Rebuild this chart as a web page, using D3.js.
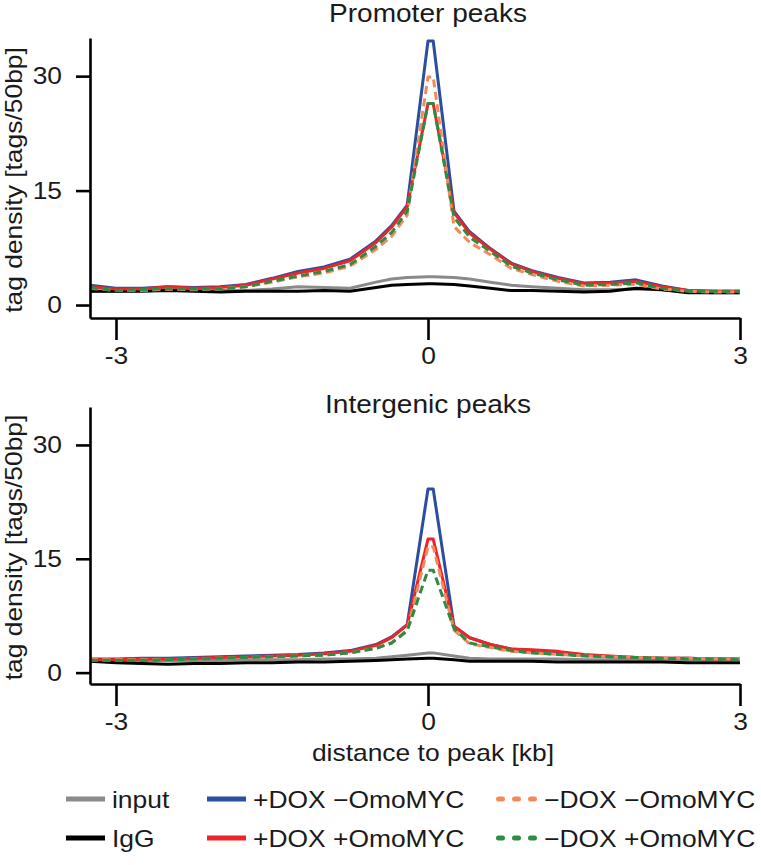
<!DOCTYPE html>
<html>
<head>
<meta charset="utf-8">
<script src="https://cdn.jsdelivr.net/npm/d3@7"></script>
<style>
  body { margin: 0; background: #fff; }
  svg text { font-family: "Liberation Sans", Arial, sans-serif; fill: #1a1a1a; }
</style>
</head>
<body>
<svg id="chart" width="761" height="865"></svg>
<script>
// distance to peak (kb)
var distKb = [-3.25, -3, -2.75, -2.5, -2.25, -2, -1.75, -1.5, -1.25, -1, -0.75, -0.5, -0.35, -0.2,
              0, 0.05, 0.25, 0.4, 0.6, 0.8, 1, 1.25, 1.5, 1.75, 2, 2.25, 2.5, 2.75, 3];

// Promoter peaks
var promInput   = [1.8, 1.8, 1.9, 2.0, 1.9, 1.9, 1.9, 2.1, 2.4, 2.3, 2.2, 3.0, 3.4, 3.6, 3.7, 3.7, 3.6, 3.4, 3.0, 2.6, 2.4, 2.2, 2.0, 2.0, 2.1, 2.0, 1.7, 1.6, 1.6];
var promIgG     = [1.8, 1.8, 1.8, 1.9, 1.8, 1.7, 1.8, 1.8, 1.8, 1.9, 1.8, 2.3, 2.6, 2.7, 2.8, 2.8, 2.7, 2.5, 2.2, 1.9, 1.9, 1.8, 1.7, 1.8, 2.2, 2.0, 1.6, 1.6, 1.6];
var promDoxNoOmo = [2.6, 2.2, 2.2, 2.4, 2.3, 2.4, 2.7, 3.5, 4.4, 5.0, 6.0, 8.4, 10.4, 13.1, 34.6, 34.6, 12.3, 9.6, 7.4, 5.5, 4.5, 3.6, 2.9, 3.0, 3.3, 2.5, 1.9, 1.8, 1.8];
var promDoxOmo   = [2.4, 2.1, 2.1, 2.4, 2.2, 2.3, 2.6, 3.4, 4.2, 4.8, 5.8, 8.2, 10.2, 12.9, 26.4, 26.4, 12.1, 9.4, 7.3, 5.4, 4.4, 3.5, 2.8, 2.9, 3.1, 2.4, 1.9, 1.8, 1.8];
var promNoDoxNoOmo = [2.2, 1.9, 1.9, 2.1, 2.0, 2.1, 2.4, 3.0, 3.7, 4.2, 5.1, 7.3, 9.0, 11.8, 29.9, 29.9, 10.3, 8.2, 6.6, 4.8, 4.0, 3.1, 2.5, 2.6, 2.7, 2.1, 1.8, 1.7, 1.7];
var promNoDoxOmo   = [2.3, 1.9, 2.0, 2.2, 2.1, 2.1, 2.4, 3.1, 3.8, 4.4, 5.3, 7.7, 9.5, 12.3, 26.4, 26.4, 11.5, 8.9, 7.0, 5.1, 4.2, 3.3, 2.6, 2.7, 2.9, 2.2, 1.8, 1.8, 1.8];

// Intergenic peaks
var interInput   = [1.6, 1.6, 1.6, 1.6, 1.6, 1.6, 1.7, 1.7, 1.7, 1.8, 1.8, 1.9, 2.1, 2.3, 2.6, 2.6, 2.2, 1.9, 1.8, 1.8, 1.8, 1.8, 1.7, 1.7, 1.7, 1.7, 1.7, 1.7, 1.7];
var interIgG     = [1.5, 1.3, 1.2, 1.1, 1.2, 1.2, 1.3, 1.3, 1.4, 1.4, 1.5, 1.6, 1.7, 1.8, 1.9, 1.9, 1.7, 1.5, 1.5, 1.5, 1.5, 1.4, 1.4, 1.4, 1.4, 1.4, 1.3, 1.3, 1.3];
var interDoxNoOmo = [1.8, 1.8, 1.9, 1.9, 2.0, 2.1, 2.2, 2.3, 2.4, 2.6, 2.9, 3.7, 4.7, 6.3, 24.2, 24.2, 6.1, 4.6, 3.7, 3.1, 2.9, 2.7, 2.3, 2.1, 2.0, 1.9, 1.9, 1.8, 1.8];
var interDoxOmo   = [1.7, 1.7, 1.8, 1.8, 1.9, 2.0, 2.1, 2.2, 2.3, 2.5, 2.8, 3.6, 4.6, 6.3, 17.6, 17.6, 6.1, 4.6, 3.7, 3.1, 3.0, 2.8, 2.4, 2.2, 2.0, 1.9, 1.9, 1.8, 1.8];
var interNoDoxNoOmo = [1.7, 1.7, 1.7, 1.7, 1.8, 1.9, 2.0, 2.1, 2.2, 2.3, 2.6, 3.2, 3.9, 5.6, 16.6, 16.6, 5.6, 3.8, 3.3, 2.8, 2.6, 2.4, 2.2, 2.1, 2.0, 1.9, 1.9, 1.8, 1.8];
var interNoDoxOmo   = [1.6, 1.6, 1.6, 1.7, 1.8, 1.9, 2.0, 2.1, 2.2, 2.3, 2.6, 3.2, 3.9, 5.5, 13.5, 13.5, 5.8, 3.9, 3.4, 2.9, 2.6, 2.4, 2.2, 2.1, 2.0, 1.9, 1.8, 1.8, 1.7];

var seriesNames = ["input", "IgG", "+DOX \u2212OmoMYC", "+DOX +OmoMYC", "\u2212DOX \u2212OmoMYC", "\u2212DOX +OmoMYC"];
var yTicks = [0, 15, 30];
var xTicks = [-3, 0, 3];

var styles = [
  {color: "#8a8a8a", dash: null},
  {color: "#000000", dash: null},
  {color: "#2b4f9e", dash: null},
  {color: "#ec2528", dash: null},
  {color: "#f48a5c", dash: "8,4.5"},
  {color: "#2e8c42", dash: "8,4.5"}
];

var svg = d3.select("#chart");

var xScale = d3.scaleLinear()
    .domain([-3.25, 3])
    .range([90, 740]);

function drawPanel(title, values, yRange, yDomain, titleY) {
    var yScale = d3.scaleLinear().domain(yDomain).range(yRange);
    var g = svg.append("g");

    var line = d3.line()
        .x(function (d, i) { return xScale(distKb[i]); })
        .y(function (d) { return yScale(d); });

    values.forEach(function (v, k) {
        g.append("path")
            .datum(v)
            .attr("fill", "none")
            .attr("stroke", styles[k].color)
            .attr("stroke-width", 3)
            .attr("stroke-linejoin", "round")
            .attr("stroke-dasharray", styles[k].dash)
            .attr("d", line);
    });

    // y axis
    var ya = g.append("g")
        .attr("transform", "translate(90,0)")
        .call(d3.axisLeft(yScale).tickValues(yTicks).tickSize(14).tickSizeOuter(0).tickPadding(14));
    // x axis
    var xa = g.append("g")
        .attr("transform", "translate(0," + yRange[0] + ")")
        .call(d3.axisBottom(xScale).tickValues(xTicks).tickSize(22).tickSizeOuter(0).tickPadding(7)
            .tickFormat(function (d) { return d < 0 ? "-" + Math.abs(d) : d; }));

    [ya, xa].forEach(function (a) {
        a.attr("font-size", 24).attr("font-family", null);
        a.selectAll("path, line").attr("stroke", "#000").attr("stroke-width", 2.6);
        a.selectAll("text").attr("fill", "#1a1a1a");
    });

    g.append("text")
        .attr("x", 428)
        .attr("y", titleY)
        .attr("text-anchor", "middle")
        .attr("font-size", 25.5)
        .text(title);

    g.append("text")
        .attr("transform", "translate(22," + ((yRange[0] + yRange[1]) / 2 + 2) + ") rotate(-90)")
        .attr("text-anchor", "middle")
        .attr("font-size", 24)
        .text("tag density [tags/50bp]");
}

drawPanel("Promoter peaks",
    [promInput, promIgG, promDoxNoOmo, promDoxOmo, promNoDoxNoOmo, promNoDoxOmo],
    [318, 38], [-1.7, 35], 22);

drawPanel("Intergenic peaks",
    [interInput, interIgG, interDoxNoOmo, interDoxOmo, interNoDoxNoOmo, interNoDoxOmo],
    [684, 407], [-1.5, 35], 413);

svg.append("text")
    .attr("x", 433)
    .attr("y", 761)
    .attr("text-anchor", "middle")
    .attr("font-size", 24)
    .text("distance to peak [kb]");

// legend, 3 columns x 2 rows
var legendCols = [66, 207, 496];
var legendRows = [799, 838];
var legend = svg.append("g");
seriesNames.forEach(function (name, k) {
    var cx = legendCols[Math.floor(k / 2)];
    var cy = legendRows[k % 2];
    var dashed = styles[k].dash != null;
    legend.append("line")
        .attr("x1", dashed ? cx + 2.5 : cx)
        .attr("x2", cx + 39)
        .attr("y1", cy)
        .attr("y2", cy)
        .attr("stroke", styles[k].color)
        .attr("stroke-width", 5)
        .attr("stroke-linecap", dashed ? "round" : "butt")
        .attr("stroke-dasharray", dashed ? "4,12" : null);
    legend.append("text")
        .attr("x", cx + (dashed ? 48 : 46))
        .attr("y", cy + 9)
        .attr("font-size", 24)
        .text(name);
});

// the figure's type is a bit wider than Arial
svg.selectAll("text").each(function () {
    var w = this.getComputedTextLength();
    d3.select(this).attr("textLength", w * 1.1).attr("lengthAdjust", "spacingAndGlyphs");
});
</script>
</body>
</html>
